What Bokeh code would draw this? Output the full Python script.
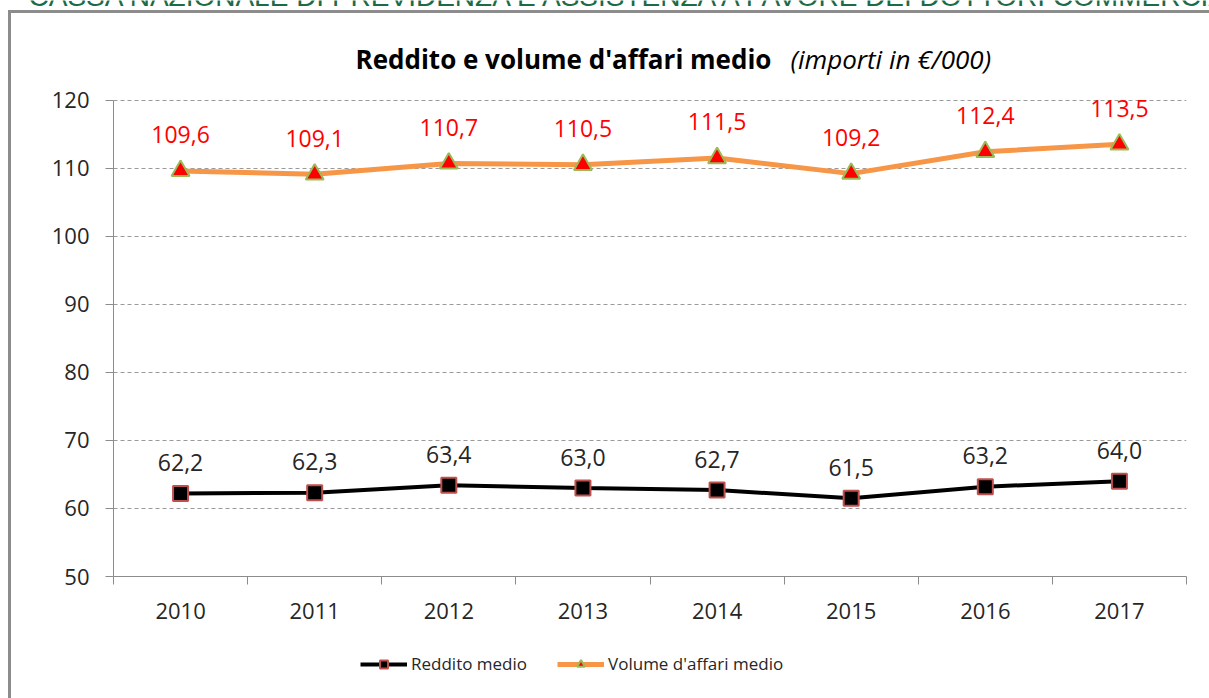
from bokeh.plotting import figure
from bokeh.layouts import column
from bokeh.models import (Range1d, FixedTicker, Legend, LegendItem,
                          ColumnDataSource, LabelSet)
from bokeh.embed import file_html
from bokeh.resources import INLINE
from bokeh.core.properties import value

# ---- data ----
years = ["2010", "2011", "2012", "2013", "2014", "2015", "2016", "2017"]
reddito_medio = [62.2, 62.3, 63.4, 63.0, 62.7, 61.5, 63.2, 64.0]
volume_affari = [109.6, 109.1, 110.7, 110.5, 111.5, 109.2, 112.4, 113.5]
y_ticks = [50, 60, 70, 80, 90, 100, 110, 120]
title_main = "Reddito e volume d'affari medio"
title_sub = "(importi in €/000)"
header = "CASSA NAZIONALE DI PREVIDENZA E ASSISTENZA A FAVORE DEI DOTTORI COMMERCIALISTI"
series_names = ["Reddito medio", "Volume d'affari medio"]

FONT = "Open Sans"
GRAY = "#8c8c8c"
BLACK_LINE = dict(line_color="black", line_width=4)
SQUARE = dict(marker="square", size=15, fill_color="black", line_color="#C0504D", line_width=2)
ORANGE_LINE = dict(line_color="#F79646", line_width=5)
TRIANGLE = dict(marker="triangle", size=18, fill_color="#FF0000", line_color="#9BBB59", line_width=2)

W = 1209
T, M, B = 80, 560, 58          # heights of title strip, chart, legend strip

xs = [i + 0.5 for i in range(len(years))]
fmt = lambda v: f"{v:.1f}".replace(".", ",")
src = ColumnDataSource(dict(
    x=xs, year=years, r=reddito_medio, v=volume_affari,
    rl=[fmt(v) for v in reddito_medio], vl=[fmt(v) for v in volume_affari]))


def strip(height):
    f = figure(width=W, height=height, x_range=Range1d(0, W), y_range=Range1d(height, 0),
               x_axis_type=None, y_axis_type=None, output_backend="svg",
               toolbar_location=None, min_border=0, min_border_left=0,
               min_border_right=0, min_border_top=0, min_border_bottom=0,
               frame_align=False)
    f.grid.visible = False
    f.outline_line_color = None
    f.background_fill_color = None
    f.border_fill_color = None
    return f


# ---- title strip ----
top = strip(T)
top.text(x=[28], y=[-4], text=[header], text_font=value("Liberation Sans"),
         text_font_size="28px", text_color="#1b6b47", text_baseline="middle")
top.text(x=[355], y=[58], text=[title_main], text_font=value(FONT),
         text_font_size="26px", text_font_style="bold", text_color="black",
         text_baseline="middle")
top.text(x=[790], y=[58], text=[title_sub], text_font=value(FONT),
         text_font_size="26px", text_font_style="italic", text_color="black",
         text_baseline="middle")

# ---- main chart ----
p = figure(width=W, height=M,
           x_range=Range1d(0, len(years)), y_range=Range1d(y_ticks[0], 122),
           output_backend="svg", toolbar_location=None, frame_align=False,
           min_border_left=113, min_border_right=23,
           min_border_top=6, min_border_bottom=T + M - 576)
p.outline_line_color = None
p.background_fill_color = "white"
p.border_fill_color = None

p.yaxis.ticker = FixedTicker(ticks=y_ticks)
p.yaxis.bounds = (y_ticks[0], y_ticks[-1])
p.yaxis.axis_line_color = GRAY
p.yaxis.major_tick_line_color = GRAY
p.yaxis.major_tick_out = 8
p.yaxis.major_tick_in = 0
p.yaxis.minor_tick_line_color = None
p.yaxis.major_label_text_font = FONT
p.yaxis.major_label_text_font_size = "22px"
p.yaxis.major_label_text_color = "#262626"
p.yaxis.major_label_standoff = 16

p.xaxis.ticker = FixedTicker(ticks=xs, minor_ticks=list(range(len(years) + 1)))
p.xaxis.major_label_overrides = {x: y for x, y in zip(xs, years)}
p.xaxis.axis_line_color = GRAY
p.xaxis.major_tick_line_color = None
p.xaxis.major_tick_out = 0
p.xaxis.major_tick_in = 0
p.xaxis.minor_tick_line_color = GRAY
p.xaxis.minor_tick_out = 8
p.xaxis.minor_tick_in = 0
p.xaxis.major_label_text_font = FONT
p.xaxis.major_label_text_font_size = "22px"
p.xaxis.major_label_text_color = "#262626"
p.xaxis.major_label_standoff = 18

p.xgrid.grid_line_color = None
p.ygrid.ticker = FixedTicker(ticks=y_ticks)
p.ygrid.grid_line_color = "#9a9a9a"
p.ygrid.grid_line_dash = "4 3"
p.ygrid.grid_line_width = 1

p.line("x", "r", source=src, **BLACK_LINE)
p.scatter("x", "r", source=src, **SQUARE)
p.line("x", "v", source=src, **ORANGE_LINE)
p.scatter("x", "v", source=src, **TRIANGLE)

p.add_layout(LabelSet(x="x", y="r", text="rl", source=src, y_offset=31,
                      text_align="center", text_baseline="middle",
                      text_font=value(FONT), text_font_size="23px",
                      text_color="#262626"))
p.add_layout(LabelSet(x="x", y="v", text="vl", source=src, y_offset=36,
                      text_align="center", text_baseline="middle",
                      text_font=value(FONT), text_font_size="23px",
                      text_color="#FF0000"))

# ---- legend strip (swatch renderers sit outside the visible range) ----
bot = strip(B)
off = ColumnDataSource(dict(x=[-1000, -999], y=[-1000, -1000]))
l1 = bot.line(x="x", y="y", source=off, **BLACK_LINE)
m1 = bot.scatter(x="x", y="y", source=off, **SQUARE)
l2 = bot.line(x="x", y="y", source=off, **ORANGE_LINE)
m2 = bot.scatter(x="x", y="y", source=off, **TRIANGLE)
legend = Legend(items=[LegendItem(label=series_names[0], renderers=[l1, m1]),
                       LegendItem(label=series_names[1], renderers=[l2, m2])],
                orientation="horizontal", location=(360, 23),
                label_text_font=FONT, label_text_font_size="17px",
                label_text_color="#262626", glyph_width=47, glyph_height=20,
                spacing=30, label_standoff=4, border_line_color=None,
                background_fill_alpha=0, margin=0, padding=5)
bot.add_layout(legend, "center")

frame_css = (f"linear-gradient({GRAY},{GRAY}) 8px 10px / 3px 100% no-repeat, "
             f"linear-gradient({GRAY},{GRAY}) 8px 10px / 100% 3px no-repeat, #ffffff")
layout = column(top, p, bot, styles={"background": frame_css})

open("out.html", "w").write(file_html(layout, INLINE))
